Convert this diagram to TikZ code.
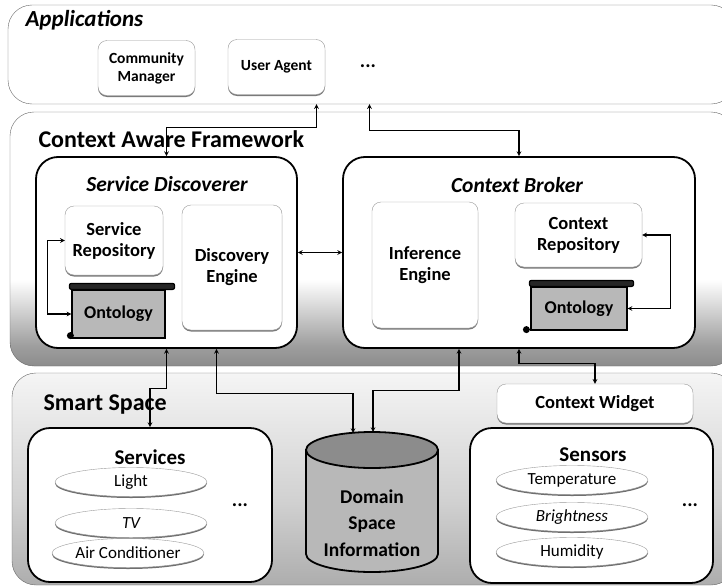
\documentclass[tikz,border=0pt]{standalone}
\usepackage{fontspec}
\setmainfont{Carlito}
\usetikzlibrary{shapes.geometric,shadows,positioning}
\pgfdeclareverticalshading{cafshade}{100bp}{color(0bp)=(black!45); color(25bp)=(black!45); color(29bp)=(black!38); color(42bp)=(white); color(100bp)=(white)}
\pgfdeclareverticalshading{ssshade}{100bp}{color(0bp)=(black!32); color(25bp)=(black!32); color(45bp)=(black!18); color(75bp)=(black!4); color(100bp)=(black!4)}
\begin{document}
\begin{tikzpicture}[x=1pt,y=-1pt,>=stealth,font=\fontsize{17}{19}\selectfont,
  panel/.style={draw=black!60,rounded corners=24pt,inner sep=0pt},
  title/.style={font=\fontsize{24}{28}\selectfont\bfseries,anchor=base west},
  bigbox/.style={draw,line width=1.8pt,rounded corners=22pt,fill=white,inner sep=0pt},
  boxtitle/.style={font=\fontsize{21}{24}\selectfont\bfseries},
  inbox/.style={draw=black!40,rounded corners=9pt,fill=white,align=center,inner sep=2pt,
    font=\fontsize{18.5}{21}\selectfont\bfseries,
    drop shadow={shadow xshift=0pt,shadow yshift=-1.5pt,fill=black!65,opacity=0.8}},
  sitem/.style={ellipse,draw=black!40,fill=white,minimum width=152pt,minimum height=29pt,inner sep=0pt,
    drop shadow={shadow xshift=0pt,shadow yshift=-1.5pt,fill=black!70,opacity=0.8}},
  onto/.style={draw,line width=1.2pt,fill=black!28,inner sep=0pt,font=\fontsize{18}{21}\selectfont\bfseries},
  dots/.style={font=\fontsize{20}{22}\selectfont\bfseries},
  link/.style={<->,line width=1.1pt}]
\useasboundingbox (0,0) rectangle (722,586);

% layers
\node[panel,fill=white,minimum width=727pt,minimum height=99pt] (apps) at (371.5,54.5) {};
\node[panel,shade,shading=cafshade,minimum width=725pt,minimum height=254pt] (caf) at (372.5,239) {};
\node[panel,shade,shading=ssshade,minimum width=723pt,minimum height=212pt] (ss) at (373.5,479) {};
\node[title,font=\fontsize{23}{26}\selectfont\bfseries\itshape] at (22,27) {Applications};
\node[title] at (35,147) {Context Aware Framework};
\node[title] at (40,410) {Smart Space};

% applications
\node[inbox,font=\fontsize{15.5}{18}\selectfont\bfseries,minimum width=97pt,minimum height=55pt] (cm) at (146.5,68) {Community\\Manager};
\node[inbox,font=\fontsize{15.5}{18}\selectfont\bfseries,minimum width=97pt,minimum height=55pt] (ua) at (276.5,67) {User Agent};
\node[dots] at (368,66) {...};

% framework
\node[bigbox,minimum width=261pt,minimum height=191pt] (sd) at (166.5,252.5) {};
\node[boxtitle,font=\fontsize{21.5}{24}\selectfont\bfseries\itshape] at (167,184) {Service Discoverer};
\node[inbox,minimum width=98pt,minimum height=69pt] (sr) at (114,240.5) {Service\\Repository};
\node[inbox,minimum width=100pt,minimum height=125pt] (de) at (232,267.5) {Discovery\\Engine};
\node[onto,minimum width=93pt,minimum height=48pt] (o1) at (118.5,314) {Ontology};
\draw[line width=1.2pt,fill=black!85,rounded corners=2pt] ([xshift=-2pt]o1.north west) rectangle ([xshift=9pt,yshift=6pt]o1.north east);
\fill ([xshift=-1pt,yshift=3pt]o1.south west) circle (3.5pt);

\node[bigbox,minimum width=352pt,minimum height=191pt] (cb) at (519,252.5) {};
\node[boxtitle,font=\fontsize{21.5}{24}\selectfont\bfseries\itshape] at (517,185) {Context Broker};
\node[inbox,minimum width=106pt,minimum height=126pt] (ie) at (425,265) {Inference\\Engine};
\node[inbox,minimum width=127pt,minimum height=64pt] (cr) at (578.5,235) {Context\\Repository};
\node[onto,minimum width=96pt,minimum height=43pt] (o2) at (579,308.5) {Ontology};
\draw[line width=1.2pt,fill=black!85,rounded corners=2pt] ([xshift=-1pt]o2.north west) rectangle ([xshift=6pt,yshift=6pt]o2.north east);
\fill ([xshift=-4pt,yshift=1pt]o2.south west) circle (3.5pt);

% smart space
\node[bigbox,minimum width=244pt,minimum height=154pt] (sv) at (150,505) {};
\node[boxtitle] at (150,457) {Services};
\node[sitem] (light) at (131,482) {Light};
\node[sitem] (tv) at (131,523) {\itshape TV};
\node[sitem] (ac) at (128,553) {Air Conditioner};
\node[dots] at (240,505) {...};

% domain space cylinder
\draw[line width=1.8pt,fill=black!28] (306,450) -- (306,554) arc[start angle=180,end angle=360,x radius=66pt,y radius=18pt] -- (438,450) -- cycle;
\draw[line width=1.8pt,fill=black!45] (372,450) ellipse[x radius=66pt,y radius=18pt];
\coordinate (dsi) at (372,432);
\node[align=center,font=\fontsize{19.5}{26.5}\selectfont\bfseries] (dsitxt) at (372,523) {Domain\\Space\\Information};

\node[bigbox,minimum width=243pt,minimum height=155pt] (sn) at (591.5,505.5) {};
\node[boxtitle] at (593,455) {Sensors};
\node[sitem] (temp) at (572,480) {Temperature};
\node[sitem] (bright) at (572,517) {\itshape Brightness};
\node[sitem] (hum) at (572,552) {Humidity};
\node[dots] at (690,505) {...};
\node[inbox,minimum width=196pt,minimum height=39pt] (cw) at (595,403.5) {Context Widget};

% connectors
\coordinate (up1) at ([xshift=40pt]ua.south |- apps.south);
\coordinate (up2) at ([xshift=93pt]ua.south |- apps.south);
\draw[link] (up1) -- ++(0,23) -| (sd.north);
\draw[link] (up2) -- ++(0,26) -| (cb.north);
\draw[link] (sd.east) -- (cb.west);
\draw[link] (sr.west) -- ++(-17,0) |- (o1.west);
\draw[link] (cr.east) -- ++(28,0) |- (o2.east);
\draw[link] (sd.south) -- ++(0,40) -| (sv.north);
\draw[link] ([xshift=50pt]sd.south) -- ++(0,45) -| ([xshift=-19pt,yshift=-1pt]dsi);
\draw[link] ([xshift=-60pt]cb.south) -- ++(0,42) -| ([xshift=1pt]dsi);
\draw[link] (cb.south) -- ++(0,15) -| (cw.north);
\end{tikzpicture}
\end{document}
